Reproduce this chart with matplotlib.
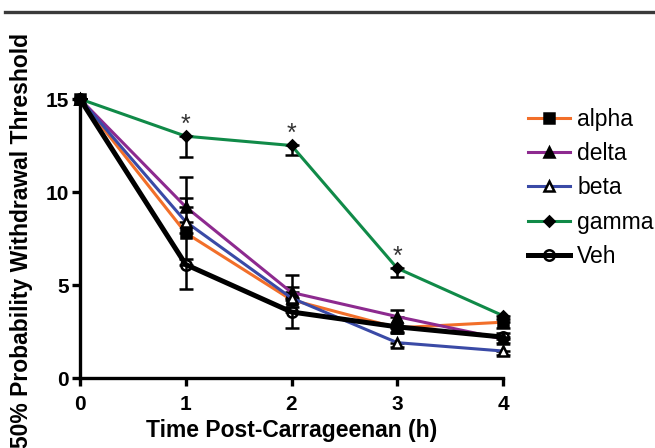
import numpy as np
import matplotlib.pyplot as plt
from matplotlib.lines import Line2D

plt.rcParams['font.family'] = ['Liberation Sans', 'DejaVu Sans']

# time points (h)
hours = [0, 1, 2, 3, 4]

# group means
alpha = [15, 7.8, 4.2, 2.7, 3.0]
delta = [15, 9.2, 4.6, 3.3, 2.1]
beta = [15, 8.4, 4.3, 1.9, 1.45]
gamma = [15, 13.0, 12.5, 5.9, 3.35]
veh = [15, 6.1, 3.55, 2.75, 2.2]

# error bars (lower, upper)
alpha_err = [[0, 1.4, 0.4, 0.3, 0.3], [0, 0, 0, 0, 0]]
delta_err = [[0, 0, 0, 0, 0], [0, 1.6, 0.95, 0.35, 0.3]]
beta_err = [[0, 0, 0, 0.25, 0.2], [0, 1.3, 0.6, 0, 0]]
gamma_err = [[0, 1.1, 0.5, 0.45, 0.2], [0, 0, 0, 0, 0]]
veh_err = [[0, 1.3, 0.85, 0.3, 0.3], [0, 0, 0, 0, 0]]

# significance stars
star_x = [1, 2, 3]
star_y = [14.0, 13.5, 6.9]

groups = [
    ("alpha", alpha, alpha_err, "#f26f2a", "s", "black", 2.2),
    ("delta", delta, delta_err, "#8d2a8f", "^", "black", 2.2),
    ("beta", beta, beta_err, "#3a4aa6", "^", "white", 2.2),
    ("gamma", gamma, gamma_err, "#108a48", "D", "black", 2.2),
    ("Veh", veh, veh_err, "black", "o", "none", 3.6),
]

fig = plt.figure(figsize=(6.55, 4.48), dpi=100)
ax = fig.add_axes([80 / 655, 70 / 448, 423 / 655, 279 / 448])

handles = []
for i, (name, vals, err, col, mk, mfc, lw) in enumerate(groups):
    ax.errorbar(hours, vals, yerr=err, fmt="none", ecolor="black",
                elinewidth=1.8, capsize=4.8, capthick=1.8, clip_on=False,
                zorder=2)
for i, (name, vals, err, col, mk, mfc, lw) in enumerate(groups):
    ms = 5.5 if mk == "D" else 7.5
    h, = ax.plot(hours, vals, color=col, lw=lw, marker=mk, ms=ms,
                 mfc=mfc, mec="black", mew=1.8, clip_on=False,
                 zorder=3 + i, label=name)
    handles.append(h)

for sx, sy in zip(star_x, star_y):
    ax.annotate("*", xy=(sx, sy), xytext=(0, -10), textcoords="offset points",
                ha="center", va="baseline", fontsize=18, color="#333333")

ax.set_xlim(0, 4)
ax.set_ylim(0, 15)
ax.set_xticks([0, 1, 2, 3, 4])
ax.set_yticks([0, 5, 10, 15])
for s in ["top", "right"]:
    ax.spines[s].set_visible(False)
for s in ["left", "bottom"]:
    ax.spines[s].set_linewidth(2.4)
ax.tick_params(width=2.4, length=6, labelsize=15)
ax.tick_params(axis="x", pad=6)
ax.tick_params(axis="y", pad=2)
for lab in ax.get_xticklabels() + ax.get_yticklabels():
    lab.set_fontweight("bold")

ax.set_xlabel("Time Post-Carrageenan (h)", fontsize=16.5, fontweight="bold",
              labelpad=4)
fig.text(22 / 655, 1 - 240 / 448, "50% Probability Withdrawal Threshold",
         rotation=90, ha="center", va="center", fontsize=16.5,
         fontweight="bold")

fig.legend(handles=handles, loc="upper left",
           bbox_to_anchor=(528 / 655, 1 - 108 / 448), frameon=False,
           fontsize=16.5, handlelength=1.85, handletextpad=0.3,
           labelspacing=0.49, borderpad=0, borderaxespad=0)

fig.add_artist(Line2D([5 / 655, 1], [1 - 12.5 / 448, 1 - 12.5 / 448],
                      transform=fig.transFigure, color="#3a3a3a", lw=2.4))

fig.savefig("out.png", dpi=100)
